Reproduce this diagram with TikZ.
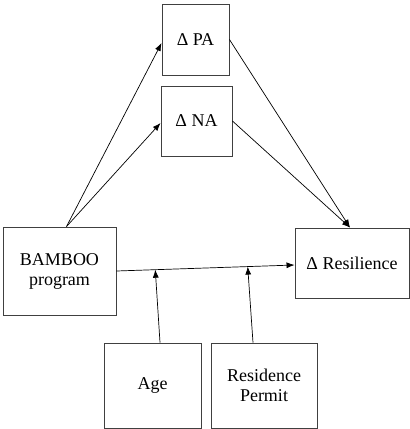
\documentclass[tikz,border=0pt]{standalone}
\usepackage{fontspec}
\setmainfont{Liberation Serif}
\usetikzlibrary{arrows.meta}
\usetikzlibrary{calc}

\begin{document}
\begin{tikzpicture}[x=1pt,y=-1pt,font=\fontsize{18}{20}\selectfont,
  box/.style={draw=black!75,line width=0.9pt,align=center,inner sep=0pt},
  link/.style={line width=0.7pt,-{Latex[length=8pt,width=6pt]}}]
\useasboundingbox (0,0) rectangle (410,429);
\node (pa) [box,minimum width=67pt,minimum height=71pt] at (195.5,39.5) {Δ PA};
\node (na) [box,minimum width=71pt,minimum height=70pt] at (196.5,121) {Δ NA};
\node (bamboo) [box,minimum width=113pt,minimum height=88pt] at (59.5,271) {BAMBOO\\program};
\node (res) [box,minimum width=114pt,minimum height=70pt] at (352,263) {Δ Resilience};
\node (age) [box,minimum width=97pt,minimum height=85pt] at (152.5,385.5) {Age};
\node (permit) [box,minimum width=106pt,minimum height=85pt] at (264,385.5) {Residence\\Permit};
\draw[link] ([xshift=7pt]bamboo.north) -- ([yshift=-3.5pt]pa.west);
\draw[link] ([xshift=7pt]bamboo.north) -- ([yshift=-2pt]na.west);
\draw[link] (pa.east) -- ([xshift=-2pt]res.north);
\draw[link] (na.east) -- ([xshift=-2pt]res.north);
\draw[link] (bamboo.east) -- ([yshift=-2pt]res.west);
\coordinate (m1) at ($(bamboo.east)!0.218!([yshift=-2pt]res.west)$);
\coordinate (m2) at ($(bamboo.east)!0.737!([yshift=-2pt]res.west)$);
\draw[link] ([xshift=7.5pt]age.north) -- (m1);
\draw[link] ([xshift=-11pt]permit.north) -- (m2);
\end{tikzpicture}
\end{document}
